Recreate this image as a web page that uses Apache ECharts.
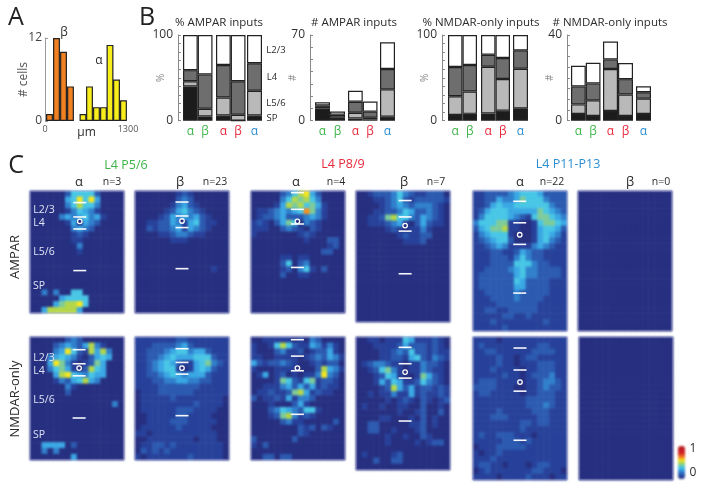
<!DOCTYPE html>
<html>
<head>
<meta charset="utf-8">
<title>L4 input maps</title>
<style>
html, body { margin: 0; padding: 0; background: #fff; }
#maps, #main { position: absolute; left: 0; top: 0; width: 704px; height: 488px; }
#maps { filter: blur(0.8px); }
</style>
<script src="https://cdn.jsdelivr.net/npm/echarts@6/dist/echarts.min.js"></script>
</head>
<body>
<div id="maps"></div>
<div id="main"></div>
<script>
//------------histogram values (panel A)
var orangeBins = [70, 180, 290, 399];
var orangeCounts = [1, 12, 10, 5];
var yellowBins = [595, 697, 806, 916, 1018, 1120, 1229];
var yellowCounts = [1, 5, 2, 2, 11, 6, 3];

//------------stacked bars (panel B), order P5/6 a, P5/6 b, P8/9 a, P8/9 b, P11-13 a
var barLabels = ['α', 'β', 'α', 'β', 'α'];
var ampPctSP = [40, 5, 6, 0, 6];
var ampPctL56 = [6, 9, 21, 7, 29];
var ampPctL4 = [13, 40, 38, 39, 32];
var ampPctL23 = [41, 46, 35, 54, 33];

var ampNumSP = [9.8, 1.4, 1.9, 1.1, 3.3];
var ampNumL56 = [1.5, 1, 4.6, 1.4, 22.3];
var ampNumL4 = [1.2, 2.4, 9, 4.9, 16.6];
var ampNumL23 = [2.5, 2.7, 9, 8.2, 21.8];

var nmdaPctSP = [6.6, 8, 8.5, 11.7, 14.4];
var nmdaPctL56 = [22, 26, 54.5, 37, 46.3];
var nmdaPctL4 = [34, 31, 14, 24.5, 21.4];
var nmdaPctL23 = [37.4, 35, 23, 26.8, 17.9];

var nmdaNumSP = [3.1, 2.2, 4.5, 2.2, 3.1];
var nmdaNumL56 = [4.5, 7.3, 19.6, 10, 7.2];
var nmdaNumL4 = [8.4, 7.9, 4.5, 7.2, 3];
var nmdaNumL23 = [9.6, 9.6, 8.4, 7.5, 2.8];

//------------input maps (panel C), one digit per cell, 0 = none, 9 = near max
var ampA56 = [
	'0000002555520000',
	'0000004585840000',
	'0000003575530000',
	'0000001354310000',
	'0000034345341000',
	'0000001404320000',
	'0000000343200000',
	'0000000121000000',
	'0000000110000000',
	'0000000030000000',
	'0000000010000000',
	'0000000000000000',
	'0000000000000000',
	'0000000000000000',
	'0000000000000000',
	'0000000000000000',
	'0000000000000000',
	'0030300550000000',
	'0000045555000000',
	'0000467785000000',
	'0047777740000000'
];
var ampB56 = [
	'0000000121000000',
	'0000000232000000',
	'0000001342100000',
	'0000012453210000',
	'0000124343421000',
	'0011224314521100',
	'0021223414321000',
	'0000112332110000',
	'0000001110000000',
	'0000000000000000',
	'0000000000000000',
	'0000000000000000',
	'0000000000000000',
	'0000000000000100',
	'0000000000000000',
	'0000000000000000',
	'0000000000000000',
	'0000000000000000',
	'0000000000000000',
	'0000000000000000',
	'0000000000000000'
];
var ampA89 = [
	'0000023578420000',
	'0000035767530000',
	'0000147675641000',
	'0112343459631000',
	'0122342223431000',
	'1210246503210000',
	'1110023210210000',
	'1000000012100000',
	'0000000001000220',
	'0000000000000120',
	'0000000000002200',
	'0000011011000000',
	'0000025023000000',
	'0000012035102000',
	'0000020011000000',
	'0000000000000000',
	'0000000000000000',
	'0000000000000000',
	'0000000000000000',
	'0000000000000000',
	'0000000000000000'
];
var ampB89 = [
	'0012223532112220',
	'0001123521222221',
	'0000123432333210',
	'0001122354223210',
	'0011267553243210',
	'0011123410242110',
	'0000012101131000',
	'0000000121122000',
	'0000000011120000',
	'0000000000000000',
	'0000000000000000',
	'0000000000000000',
	'0000000000000000',
	'0000000000000000',
	'0000000000000000',
	'0000000000000000',
	'0000000000000000',
	'0000000000000000',
	'0000000000000000',
	'0000000000000000',
	'0000000000000000',
	'0000000000000000'
];
var ampA1113 = [
	'1122223455542222',
	'1122433465553222',
	'1124544555555322',
	'1245554444465432',
	'1355554321566543',
	'3555661100156654',
	'2456671100145542',
	'1345551000145431',
	'1234552000145321',
	'1123431111343211',
	'1112211243221111',
	'1112221353221111',
	'1112222555322111',
	'1122223453322221',
	'1222222453322221',
	'1222222542222111',
	'1222222442222111',
	'1122222322222111',
	'1112222322221111',
	'1111222222211111',
	'1122112222211111',
	'1111122112111111',
	'1112111111112111',
	'1111121111111111'
];
var ampB1113 = new Array(24).fill('0000000000000000');

var nmdaA56 = [
	'0000002320000000',
	'0000234324731000',
	'0000348521747300',
	'0003454310245400',
	'0004863101264000',
	'0003564102754000',
	'0000478543544000',
	'0000132457430000',
	'0000003100000000',
	'0000002000000000',
	'0000000000000000',
	'0000000000000030',
	'0000000000000000',
	'0000000000000000',
	'0000000000000000',
	'0000000000000000',
	'0000000000000000',
	'0000000000000000',
	'0044440200000000',
	'0030300000000000',
	'0000000400000000'
];
var nmdaB56 = [
	'1111111221111111',
	'1112222342111111',
	'1122234553442111',
	'1122345444555211',
	'1123454211456321',
	'1123455101454211',
	'1122345434442111',
	'1112233443322111',
	'1111222222211111',
	'0111222222111111',
	'0111112111111110',
	'0111111111211110',
	'0111111222111100',
	'0011111221111000',
	'0011112221111100',
	'0111111211111000',
	'1101111111111100',
	'0011111111011100',
	'0112212111111110',
	'0212121111111110',
	'1011111112111110'
];
var nmdaA89 = [
	'0011111010320000',
	'1001575211431310',
	'1000231120122410',
	'1100111101232431',
	'4212232100121220',
	'1000111100027431',
	'0140120101138320',
	'0000165215612210',
	'0011134242412110',
	'0112112674121100',
	'2011214133200000',
	'0001000241000000',
	'0002354325510000',
	'0001267312100000',
	'0000023110000020',
	'0000000021202100',
	'0000000021000000',
	'2000000200000000',
	'1020000000000000',
	'0000000000000000',
	'0022022000000000'
];
var nmdaB89 = [
	'0011011154111210',
	'0001111242221210',
	'0000112325221211',
	'0000112214521321',
	'0123321101132210',
	'0012563101132110',
	'0001254100164210',
	'0001425411253210',
	'0000127424122121',
	'0010113114121121',
	'0000010121021012',
	'0100100110020010',
	'0000000100120020',
	'0000110001020100',
	'0022000001120100',
	'0022001000120000',
	'0000010010021000',
	'0000010000101220',
	'0000000000000000',
	'0100001200000000',
	'0002002200000000',
	'0000000000000000'
];
var nmdaA1113 = [
	'1111011111111111',
	'1211111111122111',
	'1122111111222211',
	'1111211012211111',
	'1111211011122211',
	'1112111101122211',
	'1111121101222311',
	'1222111101123321',
	'2222111001123221',
	'1221111101122211',
	'1111111112222211',
	'1111111112223211',
	'1111211111222111',
	'1112221111122111',
	'1111111122122111',
	'1111111121111111',
	'1211222111011111',
	'1111122212111111',
	'0111222221111111',
	'1011211111111111',
	'1112111111111111',
	'1221101110122111',
	'0121111111221110',
	'1111011112111011'
];
var nmdaB1113 = new Array(24).fill('0000000000000000');

//------------layer borders and soma in map cells [col, row]
var layerLines = [
	[8.47, [2, 4.47, 6.54, 13.7], 5.22],
	[8, [1.9, 4.3, 6.3, 13.37], 5.16],
	[7.9, [0.29, 3.16, 5.68, 13.16], 5.22],
	[8.36, [1.6, 4.35, 6.74, 13.9], 5.8],
	[7.95, [1.76, 5.45, 9.15, 17.5], 7.5],
	null,
	[8.36, [2.17, 4.57, 6.63, 13.83], 5.31],
	[8, [2, 4.34, 6.34, 13.43], 5.31],
	[7.9, [0.46, 3.26, 5.77, 13.2], 5.31],
	[8.36, [1.71, 4.42, 6.8, 13.9], 5.8],
	[8, [1.85, 5.54, 9.09, 17.33], 7.57],
	null
];

var mapColors = ['#262f80', '#27419a', '#2b5ab0', '#3080cc', '#3aa8e4', '#48c6e6',
	'#7ecb9a', '#b4d64a', '#f6e620', '#f39020', '#e85a20', '#d01f26', '#c81e24', '#be1c22', '#b41a20'];
var green = '#3fb54a', red = '#e8293a', blue = '#2b8fd0', ink = '#2b2b2b', grey = '#8a8a8a';

var mapList = [ampA56, ampB56, ampA89, ampB89, ampA1113, ampB1113,
	nmdaA56, nmdaB56, nmdaA89, nmdaB89, nmdaA1113, nmdaB1113];
var mapBoxes = [
	[30, 191, 94, 122], [135, 191, 94, 122], [251, 191, 94, 122],
	[356, 191, 94, 131], [473, 191, 94, 140], [578, 191, 94, 140],
	[30, 337, 94, 123], [135, 337, 94, 123], [251, 337, 94, 123],
	[356, 337, 94, 133], [473, 337, 94, 143], [579, 337, 94, 143]
];

//------------heat maps, in their own softened layer
var mapGrids = [], mapX = [], mapY = [], mapSeries = [];
var colNames = [];
for (var c = 0; c < 16; c++) colNames.push(c);

mapList.forEach(function (rows, m) {
	var box = mapBoxes[m], rowNames = [], cells = [];
	rows.forEach(function (line, r) {
		rowNames.push(r);
		for (var c = 0; c < 16; c++) cells.push([c, r, Number(line.charAt(c)) / 14]);
	});
	mapGrids.push({ left: box[0], top: box[1], width: box[2], height: box[3] });
	mapX.push({ type: 'category', gridIndex: m, data: colNames, show: false });
	mapY.push({ type: 'category', gridIndex: m, data: rowNames, inverse: true, show: false });
	mapSeries.push({
		type: 'heatmap', xAxisIndex: m, yAxisIndex: m, data: cells, silent: true,
		progressive: 0, animation: false
	});
});

var mapChart = echarts.init(document.getElementById('maps'));
mapChart.setOption({
	animation: false,
	grid: mapGrids,
	xAxis: mapX,
	yAxis: mapY,
	visualMap: {
		type: 'continuous', min: 0, max: 1, left: 663, top: 431, itemWidth: 7, itemHeight: 33,
		calculable: false, hoverLink: false, text: null, showLabel: false,
		textStyle: { color: 'transparent' },
		inRange: { color: mapColors }
	},
	series: mapSeries
});

//------------everything else
var grids = [], xAxes = [], yAxes = [], series = [], g = 0;

// A: histogram
grids.push({ left: 45, top: 38, width: 83, height: 83 });
xAxes.push({
	type: 'value', gridIndex: 0, min: 0, max: 1300, interval: 1300, splitLine: { show: false },
	axisLine: { show: false }, axisTick: { show: false },
	axisLabel: {
		color: '#555', fontSize: 9, margin: 4, fontFamily: 'Open Sans',
		formatter: function (v) { return String(v); }
	},
	name: 'µm', nameLocation: 'middle', nameGap: 6, nameMoveOverlap: false,
	nameTextStyle: { color: ink, fontSize: 12, fontFamily: 'Open Sans' }
});
yAxes.push({
	type: 'value', gridIndex: 0, min: 0, max: 12, interval: 12, splitLine: { show: false },
	axisLine: { show: true, lineStyle: { color: '#999', width: 1 } },
	axisTick: { show: true, length: 3, inside: true, lineStyle: { color: '#999' } },
	axisLabel: { color: '#444', fontSize: 12, margin: 3, fontFamily: 'Open Sans' },
	name: '# cells', nameLocation: 'middle', nameGap: 15, nameRotate: 90, nameMoveOverlap: false,
	nameTextStyle: { color: '#555', fontSize: 12, fontFamily: 'Open Sans' }
});
function histBars(bins, counts, color) {
	return {
		type: 'bar', xAxisIndex: 0, yAxisIndex: 0, stack: 'hist', barWidth: 6.9, silent: true,
		itemStyle: { color: color, borderColor: '#222', borderWidth: 1.2 },
		data: bins.map(function (b, i) { return [b, counts[i]]; })
	};
}
series.push(histBars(orangeBins, orangeCounts, '#f08020'));
series.push(histBars(yellowBins, yellowCounts, '#f8ee1c'));
g = 1;

// B: stacked bars, each age group gets its own grid so the bars sit in pairs
var layerColors = ['#1c1c1c', '#b9b9b9', '#6e6e6e', '#ffffff'];
var groupColors = [green, red, blue];
var barPanels = [
	{ max: 100, tick: 10, name: '%', axisAt: 178, groups: [[183, 29.5], [216, 29.5], [247, 15]],
		values: [ampPctSP, ampPctL56, ampPctL4, ampPctL23] },
	{ max: 70, tick: 7, name: '#', axisAt: 310, groups: [[315, 30], [348, 29.5], [380, 15]],
		values: [ampNumSP, ampNumL56, ampNumL4, ampNumL23] },
	{ max: 100, tick: 10, name: '%', axisAt: 442, groups: [[448, 29], [481, 29], [513, 15]],
		values: [nmdaPctSP, nmdaPctL56, nmdaPctL4, nmdaPctL23] },
	{ max: 40, tick: 8, name: '#', axisAt: 567, groups: [[571, 29.5], [603, 30], [636, 15]],
		values: [nmdaNumSP, nmdaNumL56, nmdaNumL4, nmdaNumL23] }
];
barPanels.forEach(function (panel, p) {
	var from = 0;
	panel.groups.forEach(function (group, k) {
		var count = k < 2 ? 2 : 1;
		var idx = g;
		grids.push({ left: group[0], top: 35, width: group[1], height: 85.7 });
		xAxes.push({
			type: 'category', gridIndex: idx, data: barLabels.slice(from, from + count),
			axisLine: { show: false }, axisTick: { show: false },
			axisLabel: { color: groupColors[k], fontSize: 12, margin: 5, interval: 0, fontFamily: 'Open Sans' }
		});
		yAxes.push(k === 0 ? {
			type: 'value', gridIndex: idx, min: 0, max: panel.max, interval: panel.max,
			offset: group[0] - panel.axisAt, splitLine: { show: false },
			axisLine: { show: true, lineStyle: { color: '#888', width: 1 } },
			axisTick: { show: true, inside: true, length: 3, lineStyle: { color: '#888' } },
			minorTick: { show: true, splitNumber: panel.tick, length: 3, lineStyle: { color: '#888' } },
			axisLabel: { color: '#333', fontSize: 12, margin: 5, fontFamily: 'Open Sans' },
			name: panel.name, nameLocation: 'middle', nameGap: 12, nameRotate: 90, nameMoveOverlap: false,
			nameTextStyle: { color: grey, fontSize: 10, fontFamily: 'Open Sans' }
		} : {
			type: 'value', gridIndex: idx, min: 0, max: panel.max, show: false, splitLine: { show: false }
		});
		panel.values.forEach(function (vals, layer) {
			series.push({
				type: 'bar', xAxisIndex: idx, yAxisIndex: idx, stack: 'p' + p + 'g' + k, silent: true,
				barWidth: count === 2 ? group[1] / 2 : group[1],
				itemStyle: { color: layerColors[layer], borderColor: '#222', borderWidth: 1.2 },
				data: vals.slice(from, from + count)
			});
		});
		from += count;
		g++;
	});
});

// C: layer borders and soma on top of the maps, same boxes
mapList.forEach(function (rows, m) {
	var box = mapBoxes[m], marks = layerLines[m], idx = g;
	grids.push({
		left: box[0], top: box[1], width: box[2], height: box[3], show: true,
		borderColor: '#7f88c4', borderWidth: 0.6, backgroundColor: 'transparent'
	});
	xAxes.push({ type: 'value', gridIndex: idx, min: 0, max: 16, show: false, splitLine: { show: false } });
	yAxes.push({ type: 'value', gridIndex: idx, min: 0, max: rows.length, inverse: true, show: false, splitLine: { show: false } });
	if (marks) {
		series.push({
			type: 'scatter', xAxisIndex: idx, yAxisIndex: idx, symbol: 'rect', symbolSize: [13, 1.6], silent: true,
			itemStyle: { color: '#fff', opacity: 0.95 },
			data: marks[1].map(function (row) { return [marks[0], row]; })
		});
		series.push({
			type: 'scatter', xAxisIndex: idx, yAxisIndex: idx, symbol: 'circle', symbolSize: 4.5, silent: true,
			itemStyle: { color: '#262f80', borderColor: '#fff', borderWidth: 1.3, opacity: 1 },
			data: [[marks[0], marks[2]]]
		});
	}
	g++;
});

function txt(text, x, y, size, color, rotate) {
	return {
		type: 'text', x: x, y: y, rotation: rotate ? Math.PI / 2 : 0, silent: true,
		style: {
			text: text, fontSize: size, fill: color, fontFamily: 'Open Sans',
			textAlign: 'center', textVerticalAlign: 'middle'
		}
	};
}

var labels = [
	txt('A', 16, 18, 25, '#222'), txt('B', 147, 18, 25, '#222'), txt('C', 16, 166, 25, '#222'),
	txt('β', 64, 33, 12, ink), txt('α', 99, 61, 12, ink),
	txt('% AMPAR inputs', 219, 23, 11.5, ink), txt('# AMPAR inputs', 354, 23, 11.5, ink),
	txt('% NMDAR-only inputs', 481, 23, 11.5, ink), txt('# NMDAR-only inputs', 610, 23, 11.5, ink),
	txt('L2/3', 276, 50, 9.5, ink), txt('L4', 272, 77, 9.5, ink),
	txt('L5/6', 276, 103, 9.5, ink), txt('SP', 272, 118, 9.5, ink),
	txt('L4 P5/6', 126, 165, 12.5, green), txt('L4 P8/9', 343, 164, 12.5, red), txt('L4 P11-P13', 568, 164, 12.5, blue),
	txt('α', 79, 182, 13, ink), txt('n=3', 112, 182, 10.5, ink),
	txt('β', 180, 182, 13, ink), txt('n=23', 215, 182, 10.5, ink),
	txt('α', 296, 182, 13, ink), txt('n=4', 336, 182, 10.5, ink),
	txt('β', 404, 182, 13, ink), txt('n=7', 436, 182, 10.5, ink),
	txt('α', 520, 182, 13, ink), txt('n=22', 552, 182, 10.5, ink),
	txt('β', 630, 182, 13, ink), txt('n=0', 661, 182, 10.5, ink),
	txt('AMPAR', 15, 257, 13, ink, true), txt('NMDAR-only', 15, 399, 13, ink, true),
	txt('L2/3', 44, 210, 10.5, '#dfe3f5'), txt('L4', 39, 223, 10.5, '#dfe3f5'),
	txt('L5/6', 44, 252, 10.5, '#dfe3f5'), txt('SP', 39, 286, 10.5, '#dfe3f5'),
	txt('L2/3', 44, 358, 10.5, '#dfe3f5'), txt('L4', 39, 371, 10.5, '#dfe3f5'),
	txt('L5/6', 44, 400, 10.5, '#dfe3f5'), txt('SP', 39, 435, 10.5, '#dfe3f5'),
	txt('1', 693, 449, 12, ink), txt('0', 693, 473, 12, ink)
];

var mainChart = echarts.init(document.getElementById('main'));
mainChart.setOption({
	animation: false,
	grid: grids,
	xAxis: xAxes,
	yAxis: yAxes,
	series: series,
	graphic: labels
});
</script>
</body>
</html>
